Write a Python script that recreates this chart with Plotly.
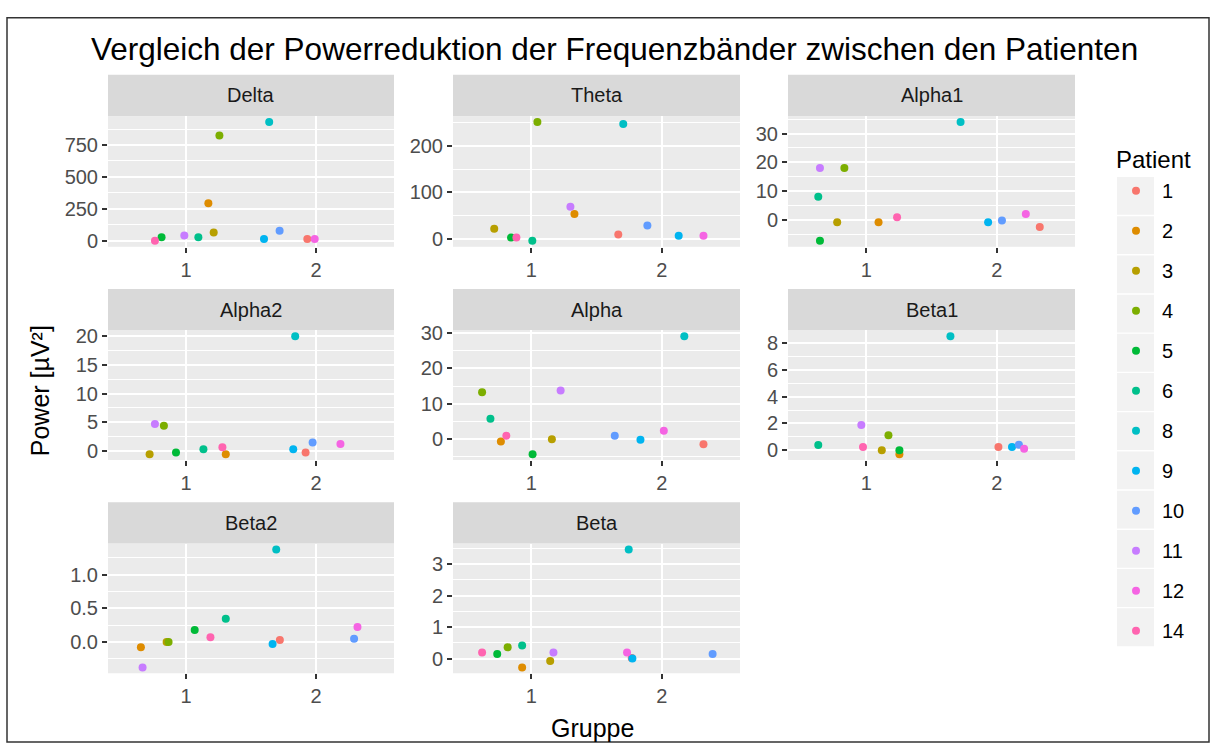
import plotly.graph_objects as go

W, H = 1215, 751

# ---------------- data ----------------
patients = ["1", "2", "3", "4", "5", "6", "8", "9", "10", "11", "12", "14"]
patient_colors = ["#F8766D", "#DE8C00", "#B79F00", "#7CAE00", "#00BA38", "#00C08B",
                  "#00BFC4", "#00B4F0", "#619CFF", "#C77CFF", "#F564E3", "#FF64B0"]
bands = ["Delta", "Theta", "Alpha1", "Alpha2", "Alpha", "Beta1", "Beta2", "Beta"]
group_ticks = [1, 2]
group_labels = ["1", "2"]

# jittered group positions and power values, in patient order
delta_x = [1.933, 1.172, 1.213, 1.257, 0.812, 1.095, 1.640, 1.600, 1.720, 0.987, 1.990, 0.761]
delta_y = [13, 293, 64, 825, 26, 26, 930, 13, 77, 41, 13, -2]

theta_x = [1.667, 1.331, 0.716, 1.047, 0.845, 1.008, 1.705, 2.130, 1.890, 1.300, 2.320, 0.886]
theta_y = [9, 53, 21, 252, 2, -5, 248, 6, 28, 69, 6, 2]

alpha1_x = [2.330, 1.094, 0.777, 0.832, 0.645, 0.632, 1.723, 1.934, 2.040, 0.645, 2.223, 1.236]
alpha1_y = [-2.5, -0.8, -0.8, 18.0, -7.3, 8.0, 34.0, -0.8, -0.2, 18.0, 2.05, 0.9]

alpha2_x = [1.920, 1.306, 0.720, 0.830, 0.923, 1.134, 1.840, 1.825, 1.974, 0.761, 2.188, 1.280]
alpha2_y = [-0.28, -0.57, -0.57, 4.4, -0.28, 0.28, 20.0, 0.28, 1.47, 4.7, 1.19, 0.62]

alpha_x = [2.320, 0.767, 1.158, 0.623, 1.010, 0.687, 2.173, 1.837, 1.640, 1.225, 2.016, 0.809]
alpha_y = [-1.5, -0.7, -0.1, 13.2, -4.3, 5.7, 29.1, -0.2, 0.9, 13.7, 2.3, 0.9]

beta1_x = [2.013, 1.254, 1.119, 1.170, 1.254, 0.632, 1.645, 2.117, 2.170, 0.962, 2.210, 0.975]
beta1_y = [0.24, -0.29, 0.0, 1.11, 0.0, 0.39, 8.5, 0.24, 0.41, 1.88, 0.12, 0.24]

beta2_x = [1.722, 0.653, 0.851, 0.866, 1.067, 1.306, 1.694, 1.666, 2.293, 0.666, 2.319, 1.188]
beta2_y = [0.029, -0.077, 0.0, 0.0, 0.179, 0.348, 1.377, -0.029, 0.048, -0.377, 0.222, 0.072]

beta_x = [1.770, 0.930, 1.145, 0.819, 0.739, 0.930, 1.747, 1.775, 2.390, 1.170, 1.734, 0.623]
beta_y = [0.02, -0.279, -0.072, 0.362, 0.145, 0.414, 3.47, 0.0, 0.145, 0.196, 0.196, 0.196]

band_x = [delta_x, theta_x, alpha1_x, alpha2_x, alpha_x, beta1_x, beta2_x, beta_x]
band_y = [delta_y, theta_y, alpha1_y, alpha2_y, alpha_y, beta1_y, beta2_y, beta_y]
y_dtick = [250, 100, 10, 5, 10, 2, 0.5, 1]
y_format = ["", "", "", "", "", "", ".1f", ""]

# ---------------- layout geometry (pixels) ----------------
FONT = "Liberation Sans, Arial, sans-serif"
cols = [(108, 394), (453, 740), (788, 1075)]
rows = [(110, 243), (328, 460), (545, 677)]
STRIP_H = 42


def px(x):
    return x / W


def py(y):
    return 1 - y / H


fig = go.Figure()

for j, pat in enumerate(patients):
    for i, band in enumerate(bands):
        k = "" if i == 0 else str(i + 1)
        fig.add_trace(go.Scatter(
            x=[band_x[i][j]], y=[band_y[i][j]],
            xaxis="x" + k, yaxis="y" + k,
            mode="markers",
            marker=dict(color=patient_colors[j], size=8, line=dict(width=0)),
            name=pat, legendgroup=pat, showlegend=(i == 0),
            hovertemplate=band + "<br>Patient " + pat + "<br>Gruppe %{x:.2f}<br>Power %{y}<extra></extra>",
        ))

shapes = []
annotations = []
layout_axes = {}
for i, band in enumerate(bands):
    r, c = divmod(i, 3)
    x0, x1 = cols[c]
    y0, y1 = rows[r]
    k = "" if i == 0 else str(i + 1)
    ys = band_y[i]
    lo, hi = min(ys), max(ys)
    pad = 0.05 * (hi - lo)
    tickfont = dict(family=FONT, size=20, color="#4D4D4D")
    layout_axes["xaxis" + k] = dict(
        domain=[px(x0), px(x1)], anchor="y" + k, range=[0.4, 2.6],
        tickmode="array", tickvals=group_ticks, ticktext=group_labels,
        showgrid=True, gridcolor="white", gridwidth=2,
        ticks="outside", ticklen=5, tickwidth=1.5, tickcolor="#333333",
        tickfont=tickfont, zeroline=False, showline=False, fixedrange=True,
    )
    layout_axes["yaxis" + k] = dict(
        domain=[py(y1), py(y0)], anchor="x" + k, range=[lo - pad, hi + pad],
        tick0=0, dtick=y_dtick[i], tickformat=y_format[i],
        showgrid=True, gridcolor="white", gridwidth=2,
        minor=dict(tick0=0, dtick=y_dtick[i] / 2, showgrid=True,
                   gridcolor="white", gridwidth=1, ticks=""),
        ticks="outside", ticklen=5, tickwidth=1.5, tickcolor="#333333",
        tickfont=tickfont, zeroline=False, showline=False, fixedrange=True,
    )
    # facet strip
    shapes.append(dict(type="rect", xref="paper", yref="paper",
                       x0=px(x0), x1=px(x1), y0=py(y0), y1=py(y0 - STRIP_H),
                       fillcolor="#D9D9D9", line=dict(width=0), layer="below"))
    annotations.append(dict(text=band, xref="paper", yref="paper",
                            x=px((x0 + x1) / 2), y=py(y0 - STRIP_H / 2),
                            xanchor="center", yanchor="middle", showarrow=False,
                            font=dict(family=FONT, size=20, color="#1A1A1A")))

# legend key backgrounds
for j in range(len(patients)):
    top = 172 + j * 39.9
    shapes.append(dict(type="rect", xref="paper", yref="paper",
                       x0=px(1117), x1=px(1154), y0=py(top + 38.5), y1=py(top),
                       fillcolor="#F2F2F2", line=dict(width=0), layer="below"))

# outer frame
shapes.append(dict(type="rect", xref="paper", yref="paper",
                   x0=px(7), x1=px(1209), y0=py(747), y1=py(10),
                   fillcolor="rgba(0,0,0,0)", line=dict(color="#333333", width=1.5)))

annotations.append(dict(text="Vergleich der Powerreduktion der Frequenzbänder zwischen den Patienten",
                        xref="paper", yref="paper", x=px(614), y=py(42),
                        xanchor="center", yanchor="middle", showarrow=False,
                        font=dict(family=FONT, size=31.5, color="#000000")))
annotations.append(dict(text="Gruppe", xref="paper", yref="paper", x=px(592), y=py(733),
                        xanchor="center", yanchor="middle", showarrow=False,
                        font=dict(family=FONT, size=25, color="#000000")))
annotations.append(dict(text="Power [µV²]", xref="paper", yref="paper", x=px(40), y=py(390),
                        xanchor="center", yanchor="middle", showarrow=False, textangle=-90,
                        font=dict(family=FONT, size=25, color="#000000")))
annotations.append(dict(text="Patient", xref="paper", yref="paper", x=px(1114), y=py(154),
                        xanchor="left", yanchor="middle", showarrow=False,
                        font=dict(family=FONT, size=24, color="#000000")))

fig.update_layout(
    width=W, height=H,
    margin=dict(l=0, r=0, t=0, b=0),
    paper_bgcolor="white", plot_bgcolor="#EBEBEB",
    font=dict(family=FONT),
    shapes=shapes, annotations=annotations,
    legend=dict(x=px(1110), y=py(166), xanchor="left", yanchor="top",
                font=dict(family=FONT, size=20, color="#000000"),
                tracegroupgap=11, itemwidth=42,
                bgcolor="rgba(0,0,0,0)", itemsizing="trace"),
    **layout_axes,
)

fig.write_html(
    "out.html",
    config={"displayModeBar": False},
    post_script="document.documentElement.style.margin='0';"
                "document.body.style.margin='0';document.body.style.padding='0';"
                "document.body.style.overflow='hidden';",
)
